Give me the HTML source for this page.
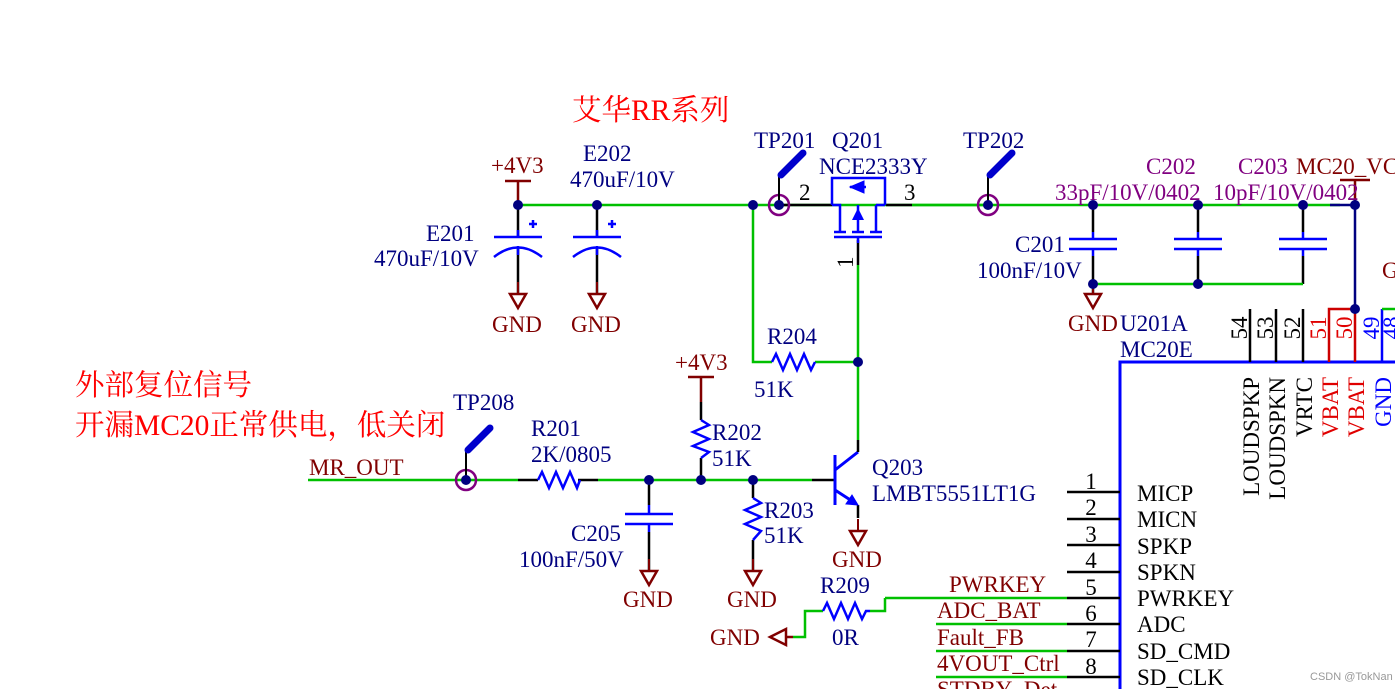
<!DOCTYPE html>
<html><head><meta charset="utf-8"><style>
html,body{margin:0;padding:0;background:#fff;}
svg{display:block;}
text{font-family:"Liberation Serif","Noto Serif CJK SC",serif;font-size:23px;}
.n{fill:#000080}.r{fill:#800000}.p{fill:#800080}.k{fill:#000}.rd{fill:#e00000}.cn{font-family:"Liberation Serif","Noto Serif CJK SC",serif;fill:#ff0000;font-size:29.5px}
</style></head><body>
<svg width="1395" height="689" viewBox="0 0 1395 689" xmlns="http://www.w3.org/2000/svg">
<defs>
<g id="gnd"><line x1="0" y1="0" x2="0" y2="-12" stroke="#800000" stroke-width="2"/><path d="M-8 0 H8 L0 14 Z" fill="none" stroke="#800000" stroke-width="2.5"/></g>
<g id="dot"><circle r="5" fill="#000080"/></g>
<g id="tp"><circle r="10" fill="none" stroke="#800080" stroke-width="2.5"/><line x1="0" y1="0" x2="0" y2="-28" stroke="#000" stroke-width="2"/><line x1="2" y1="-30" x2="24" y2="-52" stroke="#0000cc" stroke-width="7" stroke-linecap="round"/><line x1="0" y1="-28" x2="4" y2="-32" stroke="#0000cc" stroke-width="3"/></g>
</defs>
<g fill="none" stroke-width="2.5">
<path d="M518 205 H1340" stroke="#00c000"/>
<path d="M1330 205 H1355 V309" stroke="#000080"/>
<path d="M1340 180 H1370 M1355 180 V205" stroke="#800000"/>
<path d="M505 181 H531 M518 181 V205" stroke="#800000"/>
<path d="M518 205 V237 M518 249 V293 M597 205 V237 M597 249 V293" stroke="#000"/>
<path d="M494 237 H542 M573 237 H621 M494 257 Q518 238 542 257 M573 257 Q597 238 621 257 M518 237 V230 M597 237 V230 M518 246 V255 M597 246 V255" stroke="#0000ff"/>
<path d="M529 224 H537 M533 220 V228 M608 224 H616 M612 220 V228" stroke="#0000ff"/>
<path d="M753 205 V362 H772 M815 362 H858 M858 265 V440" stroke="#00c000"/>
<path d="M772 362 L776 354 L783 370 L790 354 L797 370 L804 354 L811 370 L815 362" stroke="#0000ff"/>
<path d="M858 240 V265" stroke="#000"/>
<path d="M779 205 H832 M886 205 H912" stroke="#000"/>
<path d="M912 205 H988" stroke="#00c000"/>
<path d="M832 205 V178 H885 V205 M832 205 H840 V232 M876 205 H885 M876 205 V232 M858 232 V205 M834 232 H846 M852 232 H864 M870 232 H882 M834 237 H882 M858 237 V243" stroke="#0000ff"/>
<path d="M850 187 L866 187" stroke="#0000ff"/>
<path d="M850 187 L864 181 V193 Z" fill="#0000ff" stroke="#0000ff" stroke-width="1"/>
<path d="M852 220 L858 208 L864 220 Z" fill="#0000ff" stroke="none"/>
<path d="M1093 205 V232 M1093 256 V293 M1198 205 V232 M1198 256 V284 M1303 205 V232 M1303 256 V284" stroke="#000"/>
<path d="M1069 239 H1117 M1069 249 H1117 M1174 239 H1222 M1174 249 H1222 M1279 239 H1327 M1279 249 H1327 M1093 232 V239 M1093 249 V256 M1198 232 V239 M1198 249 V256 M1303 232 V239 M1303 249 V256" stroke="#0000ff"/>
<path d="M1093 284 H1303" stroke="#00c000"/>
<path d="M1120 689 V362 H1395" stroke="#0000ff" stroke-width="3"/>
<path d="M1250 309 V362 M1276 309 V362 M1303 309 V362" stroke="#000"/>
<path d="M1329 362 V309 H1355 V362" stroke="#cc0000"/>
<path d="M1382 362 V309" stroke="#0000ff"/>
<path d="M1382 309 H1395" stroke="#00c000"/>
<path d="M1067 492 H1120 M1067 519 H1120 M1067 545 H1120 M1067 572 H1120 M1067 598 H1120 M1067 624 H1120 M1067 651 H1120 M1067 677 H1120" stroke="#000"/>
<path d="M885 598 H1067 M936 624 H1067 M936 651 H1067 M936 677 H1067" stroke="#00c000"/>
<path d="M885 598 V611 H870 M823 611 H805 V637 H793" stroke="#00c000"/>
<path d="M823 611 L827 603 L834 619 L841 603 L848 619 L855 603 L862 619 L866 611 H870" stroke="#0000ff"/>
<path d="M793 637 H785 M770 637 L786 629 V645 Z" stroke="#800000"/>
<path d="M308 480 H518 M598 480 H812" stroke="#00c000"/>
<path d="M518 480 H538 M578 480 H598 M812 480 H835" stroke="#000"/>
<path d="M538 480 L542 472 L549 488 L556 472 L563 488 L570 472 L577 488 L580 480" stroke="#0000ff"/>
<path d="M649 480 V505 M649 532 V570" stroke="#000"/>
<path d="M625 514 H673 M625 524 H673 M649 505 V514 M649 524 V532" stroke="#0000ff"/>
<path d="M688 377 H714 M701 377 V402" stroke="#800000"/>
<path d="M701 402 V420 M701 458 V480" stroke="#000"/>
<path d="M701 420 L709 425 L693 432 L709 439 L693 446 L709 452 L701 458" stroke="#0000ff"/>
<path d="M753 480 V498 M753 540 V570" stroke="#000"/>
<path d="M753 498 L761 503 L745 510 L761 517 L745 524 L761 531 L753 540" stroke="#0000ff"/>
<path d="M835 455 V505 M835 470 L858 452 M835 490 L855 503" stroke="#0000ff" stroke-width="3"/>
<path d="M858 440 V452 M858 505 V518" stroke="#000"/>
<path d="M858 505 L846 504 L852 495 Z" fill="#0000ff" stroke="#0000ff" stroke-width="1"/>
</g>
<use href="#gnd" x="518" y="294"/><use href="#gnd" x="597" y="294"/><use href="#gnd" x="1093" y="294"/>
<use href="#gnd" x="649" y="571"/><use href="#gnd" x="753" y="571"/><use href="#gnd" x="858" y="531"/>
<use href="#tp" x="779" y="205"/><use href="#tp" x="988" y="205"/><use href="#tp" x="466" y="480"/>
<g>
<use href="#dot" x="518" y="205"/><use href="#dot" x="597" y="205"/><use href="#dot" x="753" y="205"/><use href="#dot" x="779" y="205"/><use href="#dot" x="988" y="205"/>
<use href="#dot" x="1093" y="205"/><use href="#dot" x="1198" y="205"/><use href="#dot" x="1303" y="205"/><use href="#dot" x="1355" y="205"/>
<use href="#dot" x="1093" y="284"/><use href="#dot" x="1198" y="284"/><use href="#dot" x="1355" y="309"/>
<use href="#dot" x="858" y="362"/><use href="#dot" x="466" y="480"/><use href="#dot" x="649" y="480"/><use href="#dot" x="701" y="480"/><use href="#dot" x="753" y="480"/>
</g>
<text x="572" y="120" class="cn">艾华RR系列</text>
<text x="75" y="395" class="cn">外部复位信号</text>
<text x="75" y="435" class="cn">开漏MC20正常供电，低关闭</text>
<text x="491" y="173" class="r">+4V3</text>
<text x="583" y="161" class="n">E202</text>
<text x="570" y="187" class="n">470uF/10V</text>
<text x="426" y="241" class="n">E201</text>
<text x="374" y="266" class="n">470uF/10V</text>
<text x="492" y="332" class="r">GND</text><text x="571" y="332" class="r">GND</text>
<text x="754" y="148" class="n">TP201</text>
<text x="832" y="148" class="n">Q201</text>
<text x="819" y="174" class="n">NCE2333Y</text>
<text x="799" y="200" class="k">2</text><text x="904" y="200" class="k">3</text>
<text x="0" y="0" class="k" transform="translate(853,268) rotate(-90)">1</text>
<text x="963" y="148" class="n">TP202</text>
<text x="1146" y="174" class="p">C202</text>
<text x="1238" y="174" class="p">C203</text>
<text x="1296" y="174" class="r">MC20_VC</text>
<text x="1055" y="200" class="p">33pF/10V/0402</text>
<text x="1213" y="200" class="p">10pF/10V/0402</text>
<text x="1015" y="252" class="n">C201</text>
<text x="977" y="278" class="n">100nF/10V</text>
<text x="1068" y="331" class="r">GND</text><text x="1120" y="331" class="n">U201A</text>
<text x="1120" y="357" class="n">MC20E</text>
<text x="1382" y="278" class="r">G</text>
<text x="767" y="344" class="n">R204</text>
<text x="754" y="397" class="n">51K</text>
<text x="675" y="370" class="r">+4V3</text>
<text x="453" y="410" class="n">TP208</text>
<text x="531" y="436" class="n">R201</text>
<text x="531" y="462" class="n">2K/0805</text>
<text x="309" y="475" class="r">MR_OUT</text>
<text x="712" y="440" class="n">R202</text>
<text x="712" y="466" class="n">51K</text>
<text x="764" y="518" class="n">R203</text>
<text x="764" y="543" class="n">51K</text>
<text x="571" y="541" class="n">C205</text>
<text x="519" y="567" class="n">100nF/50V</text>
<text x="872" y="475" class="n">Q203</text>
<text x="872" y="501" class="n">LMBT5551LT1G</text>
<text x="623" y="607" class="r">GND</text><text x="727" y="607" class="r">GND</text><text x="832" y="567" class="r">GND</text>
<text x="820" y="593" class="n">R209</text>
<text x="832" y="645" class="n">0R</text>
<text x="710" y="645" class="r">GND</text>
<text x="949" y="592" class="r">PWRKEY</text>
<text x="937" y="618" class="r">ADC_BAT</text>
<text x="937" y="645" class="r">Fault_FB</text>
<text x="937" y="671" class="r">4VOUT_Ctrl</text>
<text x="937" y="697" class="r">STDBY_Det</text>
<g class="k" text-anchor="middle">
<text x="1091" y="489">1</text><text x="1091" y="515">2</text><text x="1091" y="542">3</text><text x="1091" y="568">4</text><text x="1091" y="595">5</text><text x="1091" y="621">6</text><text x="1091" y="647">7</text><text x="1091" y="674">8</text>
</g>
<g class="k">
<text x="1137" y="501">MICP</text><text x="1137" y="527">MICN</text><text x="1137" y="554">SPKP</text><text x="1137" y="580">SPKN</text><text x="1137" y="606">PWRKEY</text><text x="1137" y="632">ADC</text><text x="1137" y="659">SD_CMD</text><text x="1137" y="685">SD_CLK</text>
</g>
<g text-anchor="middle">
<text class="k" transform="translate(1247,328) rotate(-90)">54</text>
<text class="k" transform="translate(1273,328) rotate(-90)">53</text>
<text class="k" transform="translate(1300,328) rotate(-90)">52</text>
<text class="rd" transform="translate(1326,328) rotate(-90)">51</text>
<text class="rd" transform="translate(1352,328) rotate(-90)">50</text>
<text fill="#0000ff" transform="translate(1379,328) rotate(-90)">49</text>
<text fill="#0000ff" transform="translate(1399,328) rotate(-90)">48</text>
</g>
<g text-anchor="end">
<text class="k" transform="translate(1259,377) rotate(-90)">LOUDSPKP</text>
<text class="k" transform="translate(1285,377) rotate(-90)">LOUDSPKN</text>
<text class="k" transform="translate(1312,377) rotate(-90)">VRTC</text>
<text class="rd" transform="translate(1338,377) rotate(-90)">VBAT</text>
<text class="rd" transform="translate(1364,377) rotate(-90)">VBAT</text>
<text fill="#0000ff" transform="translate(1391,377) rotate(-90)">GND</text>
</g>
<text x="1310" y="680" style="font-family:'Liberation Sans',sans-serif;font-size:11px" fill="#999">CSDN @TokNan</text>
</svg>
</body></html>
